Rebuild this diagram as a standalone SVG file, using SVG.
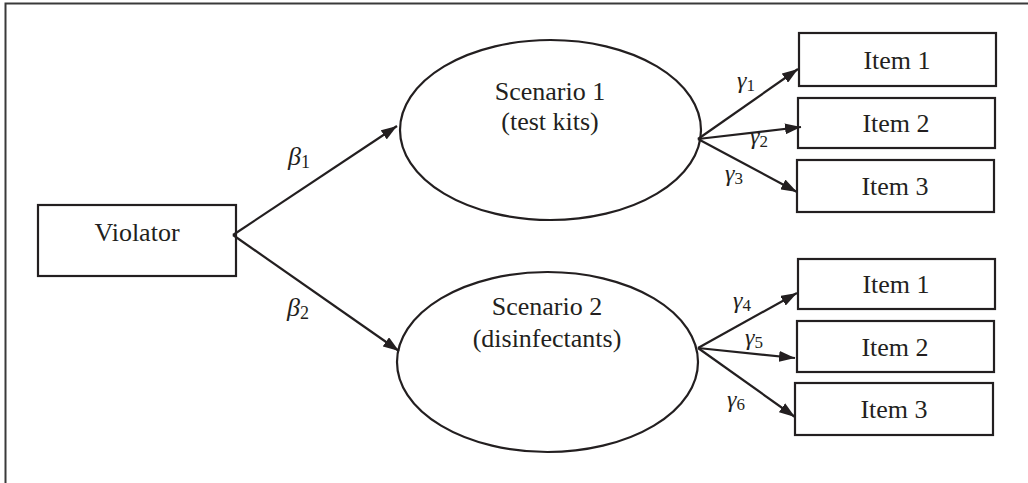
<svg xmlns="http://www.w3.org/2000/svg" width="1028" height="483" viewBox="0 0 1028 483">
<defs>
<style>
.box{fill:#fff;stroke:#231f20;stroke-width:2.2}
.ell{fill:#fff;stroke:#231f20;stroke-width:2.2}
.lbl{font-family:"Liberation Serif","Times New Roman",serif;font-size:26px;fill:#231f20;text-anchor:middle}
.gk{font-family:"Liberation Serif","DejaVu Serif",serif;font-style:italic;fill:#231f20}
.sub{font-style:normal}
.con{stroke:#231f20;stroke-width:2.2;fill:none;marker-end:url(#ah)}
</style>
<marker id="ah" viewBox="0 0 16 11" refX="16" refY="5.5" markerWidth="16" markerHeight="11" markerUnits="userSpaceOnUse" orient="auto">
<path d="M0,0 L16,5.5 L0,11 Z" fill="#231f20"/>
</marker>
</defs>
<rect width="1028" height="483" fill="#fff"/>
<path d="M1030 3.5 H5.5 V486" fill="none" stroke="#3a3a3a" stroke-width="2"/>
<g id="violator">
<rect class="box" x="38" y="205" width="198" height="71"/>
<text class="lbl" x="137" y="241">Violator</text>
</g>
<g id="scenario1">
<ellipse class="ell" cx="550.5" cy="130" rx="150.5" ry="90"/>
<text class="lbl" x="550" y="100">Scenario 1</text>
<text class="lbl" x="550" y="130">(test kits)</text>
</g>
<g id="scenario2">
<ellipse class="ell" cx="547.5" cy="362" rx="150.5" ry="90"/>
<text class="lbl" x="547" y="315">Scenario 2</text>
<text class="lbl" x="547" y="347">(disinfectants)</text>
</g>
<g id="s1item1"><rect class="box" x="799" y="33" width="197" height="53"/><text class="lbl" x="897" y="69">Item 1</text></g>
<g id="s1item2"><rect class="box" x="798" y="98" width="197" height="50"/><text class="lbl" x="896" y="132">Item 2</text></g>
<g id="s1item3"><rect class="box" x="797" y="160" width="197" height="52"/><text class="lbl" x="895" y="195">Item 3</text></g>
<g id="s2item1"><rect class="box" x="798" y="259" width="197" height="50"/><text class="lbl" x="896" y="293">Item 1</text></g>
<g id="s2item2"><rect class="box" x="797" y="321" width="197" height="51"/><text class="lbl" x="895" y="356">Item 2</text></g>
<g id="s2item3"><rect class="box" x="795" y="383" width="198" height="52"/><text class="lbl" x="894" y="418">Item 3</text></g>
<g id="connectors">
<line class="con" x1="233" y1="235" x2="397" y2="126"/>
<line class="con" x1="233" y1="235" x2="399" y2="351"/>
<line class="con" x1="698" y1="139" x2="798" y2="69"/>
<line class="con" x1="698" y1="139" x2="801" y2="127"/>
<line class="con" x1="698" y1="139" x2="797" y2="192"/>
<line class="con" x1="698" y1="348" x2="797" y2="293"/>
<line class="con" x1="698" y1="348" x2="795" y2="358"/>
<line class="con" x1="698" y1="348" x2="795" y2="417"/>
</g>
<g id="labels">
<text class="gk" x="288" y="165" font-size="26">β<tspan class="sub" font-size="18" dy="3">1</tspan></text>
<text class="gk" x="287" y="316" font-size="26">β<tspan class="sub" font-size="18" dy="3">2</tspan></text>
<text class="gk" x="737" y="88" font-size="24">γ<tspan class="sub" font-size="17" dy="3">1</tspan></text>
<text class="gk" x="750" y="144" font-size="24">γ<tspan class="sub" font-size="17" dy="3">2</tspan></text>
<text class="gk" x="725" y="181" font-size="24">γ<tspan class="sub" font-size="17" dy="3">3</tspan></text>
<text class="gk" x="733" y="308" font-size="24">γ<tspan class="sub" font-size="17" dy="3">4</tspan></text>
<text class="gk" x="745" y="345" font-size="24">γ<tspan class="sub" font-size="17" dy="3">5</tspan></text>
<text class="gk" x="727" y="407" font-size="24">γ<tspan class="sub" font-size="17" dy="3">6</tspan></text>
</g>
</svg>
